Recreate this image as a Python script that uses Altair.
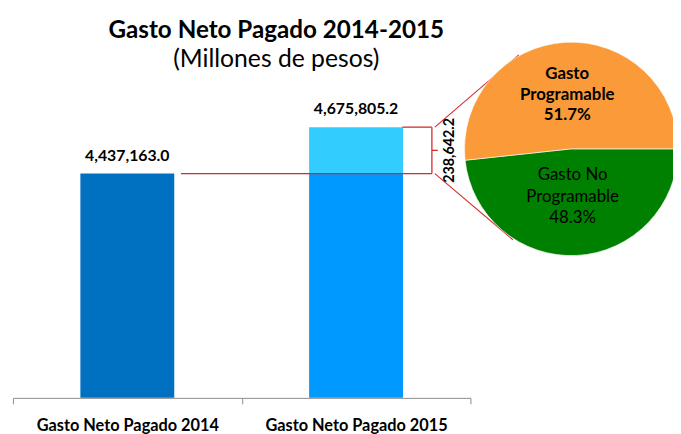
import math
import altair as alt
import pandas as pd

# ---------------- data ----------------
categories = ["Gasto Neto Pagado 2014", "Gasto Neto Pagado 2015"]
totals = [4437163.0, 4675805.2]
bar_colors = ["#0070C0", "#0099FF"]
increase_color = "#33CCFF"

pie_names = ["Gasto  No\nProgramable", "Gasto\nProgramable"]
pie_shares = [48.3, 51.7]
pie_colors = ["#008000", "#FA9A38"]
pie_order = [0, 1]

# ---------------- layout constants ----------------
Y_MIN, Y_MAX = 3285000, 4858600
RED = "#D22B2B"
FONT = "Lato"
PIE_X, PIE_Y, PIE_R = 565, 58, 108

bars_df = pd.DataFrame({
    "cat": [categories[0], categories[1], categories[1]],
    "start": [Y_MIN, Y_MIN, totals[0]],
    "end": [totals[0], totals[0], totals[1]],
    "color": [bar_colors[0], bar_colors[1], increase_color],
})
labels_df = pd.DataFrame({"cat": categories, "value": totals})
diff_df = pd.DataFrame({"low": [totals[0]], "high": [totals[1]]})
pie_df = pd.DataFrame({"name": pie_names, "share": pie_shares,
                       "color": pie_colors, "idx": pie_order})

yscale = alt.Scale(domain=[Y_MIN, Y_MAX], zero=False, nice=False)
xscale = alt.Scale(domain=categories, paddingInner=0, paddingOuter=0)
tscale = alt.Scale(range=[math.pi / 2, math.pi / 2 + 2 * math.pi])

xaxis = alt.Axis(labelAngle=0, labelFont=FONT, labelFontWeight="bold",
                 labelFontSize=16.5, labelColor="black", tickBand="extent",
                 tickSize=6, tickColor="#8c8c8c", domainColor="#8c8c8c",
                 labelPadding=14, labelLimit=0, grid=False, title=None)

bars = alt.Chart(bars_df).mark_bar(width=95).encode(
    x=alt.X("cat:N", scale=xscale, axis=xaxis),
    y=alt.Y("end:Q", scale=yscale, axis=None),
    y2="start:Q",
    color=alt.Color("color:N", scale=None),
)

value_labels = alt.Chart(labels_df).mark_text(
    font=FONT, fontWeight="bold", fontSize=16, baseline="alphabetic", dy=-13, color="black"
).encode(
    x=alt.X("cat:N", scale=xscale, axis=xaxis),
    y=alt.Y("value:Q", scale=yscale, axis=None),
    text=alt.Text("value:Q", format=",.1f"),
)

base_diff = alt.Chart(diff_df).transform_calculate(
    mid="(datum.low + datum.high) / 2", diff="datum.high - datum.low"
)
line_low = base_diff.mark_rule(color=RED, strokeWidth=1.3).encode(
    x=alt.value(170), x2=alt.value(424), y=alt.Y("low:Q", scale=yscale, axis=None))
line_high = base_diff.mark_rule(color=RED, strokeWidth=1.3).encode(
    x=alt.value(394), x2=alt.value(424), y=alt.Y("high:Q", scale=yscale, axis=None))
line_vert = base_diff.mark_rule(color=RED, strokeWidth=1.3).encode(
    x=alt.value(424), y=alt.Y("high:Q", scale=yscale, axis=None), y2="low:Q")
line_tick = base_diff.mark_rule(color=RED, strokeWidth=1.3).encode(
    x=alt.value(424), x2=alt.value(430), y=alt.Y("mid:Q", scale=yscale, axis=None))
diag_up = base_diff.mark_rule(color=RED, strokeWidth=1.1).encode(
    x=alt.value(427), x2=alt.value(512),
    y=alt.Y("high:Q", scale=yscale, axis=None), y2=alt.value(-37))
diag_down = base_diff.mark_rule(color=RED, strokeWidth=1.1).encode(
    x=alt.value(427), x2=alt.value(506),
    y=alt.Y("low:Q", scale=yscale, axis=None), y2=alt.value(150))
diff_label = base_diff.mark_text(
    font=FONT, fontWeight="bold", fontSize=14.5, angle=270, align="center",
    baseline="middle", color="black"
).encode(
    x=alt.value(442), y=alt.Y("mid:Q", scale=yscale, axis=None),
    text=alt.Text("diff:Q", format=",.1f"),
)

pie = alt.Chart(pie_df).mark_arc(radius=PIE_R, stroke="white", strokeWidth=0.6).encode(
    theta=alt.Theta("share:Q", stack=True, scale=tscale),
    color=alt.Color("color:N", scale=None),
    order=alt.Order("idx:O"),
    x=alt.value(PIE_X), y=alt.value(PIE_Y),
)

pie_base = alt.Chart(pie_df).transform_calculate(
    txt="datum.name + '\\n' + format(datum.share, '.1f') + '%'"
)
pie_text_bold = pie_base.transform_calculate(
    t2="datum.idx == 1 ? datum.txt : ''"
).mark_text(radius=76, font=FONT, fontWeight="bold", fontSize=17, lineBreak="\n",
            lineHeight=21, color="black", baseline="middle").encode(
    theta=alt.Theta("share:Q", stack=True, scale=tscale),
    order=alt.Order("idx:O"),
    text="t2:N",
    x=alt.value(PIE_X), y=alt.value(PIE_Y),
)
pie_text_norm = pie_base.transform_calculate(
    t2="datum.idx == 0 ? datum.txt : ''"
).mark_text(radius=27, font=FONT, fontSize=17, lineBreak="\n",
            lineHeight=21.5, color="black", baseline="middle").encode(
    theta=alt.Theta("share:Q", stack=True, scale=tscale),
    order=alt.Order("idx:O"),
    text="t2:N",
    x=alt.value(PIE_X), y=alt.value(PIE_Y),
)

chart = alt.layer(
    bars, value_labels, line_low, line_high, line_vert, line_tick,
    diag_up, diag_down, diff_label, pie, pie_text_bold, pie_text_norm
).properties(
    width=463, height=310,
    autosize=alt.AutoSizeParams(type="none"),
    padding={"left": 5, "top": 82, "right": 205, "bottom": 34},
    title=alt.TitleParams(
        text="Gasto Neto Pagado 2014-2015", subtitle="(Millones de pesos)",
        font=FONT, fontSize=24.5, fontWeight="bold", color="black",
        subtitleFont=FONT, subtitleFontSize=25, subtitleColor="black",
        anchor="middle", dx=35, offset=-32, subtitlePadding=3, frame="group",
    ),
).configure_view(stroke=None)

chart.save("out.html", embed_options={"renderer": "svg", "actions": False})
